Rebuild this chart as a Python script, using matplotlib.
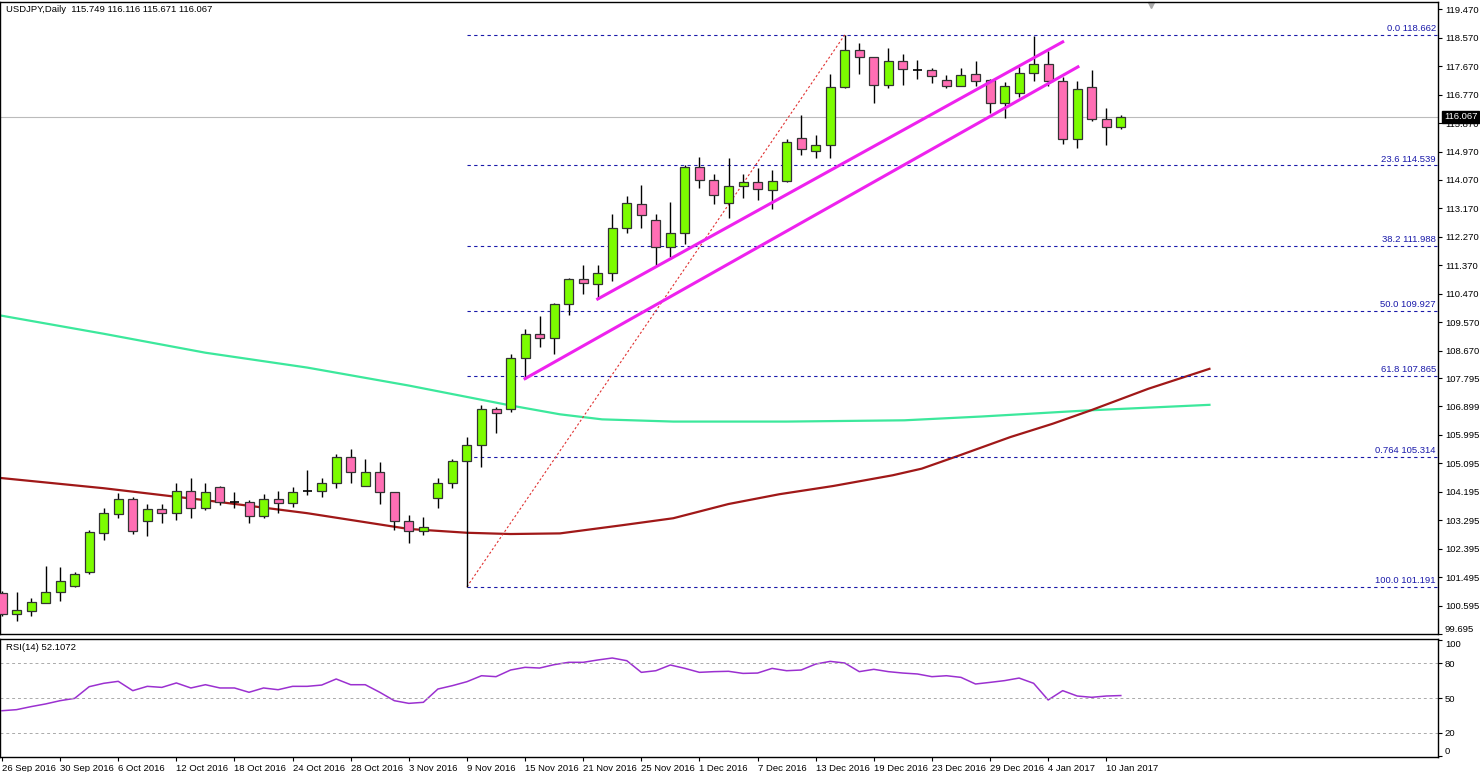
import matplotlib
matplotlib.use("Agg")
import matplotlib.pyplot as plt
import numpy as np

# ---- data ----
opens  = [101.00,100.34,100.43,100.69,101.03,101.22,101.66,102.89,103.49,103.97,103.27,103.65,103.52,104.22,103.68,104.34,103.87,103.87,103.43,103.97,
          103.84,104.22,104.22,104.47,105.29,104.37,104.82,104.19,103.27,102.96,104.00,104.47,105.16,105.67,106.83,106.83,108.44,109.20,109.07,110.15,
          110.94,110.78,111.12,112.54,113.30,112.80,111.94,112.39,114.47,114.06,113.33,113.87,114.00,113.74,114.03,115.41,115.00,115.19,117.02,118.19,
          117.97,117.09,117.84,117.56,117.56,117.24,117.05,117.43,117.24,116.52,116.83,117.46,117.75,117.21,115.35,117.02,116.01,115.749]
highs  = [101.05,101.03,100.84,101.85,101.82,101.66,102.99,103.68,104.15,104.03,103.81,103.81,104.47,104.63,104.47,104.37,104.19,103.93,104.12,104.22,
          104.34,104.88,104.63,105.39,105.54,105.23,105.13,104.19,103.46,103.40,104.63,105.23,105.92,106.96,106.87,108.57,109.36,109.77,110.18,110.97,
          111.38,111.38,112.99,113.55,113.90,112.99,113.36,114.53,114.81,114.25,114.78,114.25,114.44,114.40,115.38,116.14,115.48,117.43,118.66,118.41,
          117.97,118.25,118.06,117.87,117.62,117.40,117.62,117.84,117.28,117.18,117.65,118.63,118.16,117.34,117.21,117.56,116.36,116.116]
lows   = [100.28,100.12,100.28,100.69,100.75,101.19,101.60,102.67,103.37,102.86,102.80,103.21,103.30,103.37,103.62,103.78,103.68,103.21,103.37,103.52,
          103.71,104.09,104.03,104.31,104.47,104.37,103.81,102.99,102.58,102.83,103.68,104.31,101.19,104.97,106.05,106.71,107.78,108.79,108.57,109.80,
          110.46,110.30,110.87,112.39,112.54,111.35,111.63,112.04,113.81,113.30,112.86,113.49,113.43,113.14,114.00,114.85,114.75,114.75,116.99,117.43,
          116.52,116.99,117.09,117.28,117.15,116.99,117.05,117.05,116.20,116.04,116.71,117.21,117.05,115.22,115.07,115.95,115.19,115.671]
closes = [100.34,100.45,100.72,101.03,101.38,101.60,102.92,103.52,103.97,102.96,103.65,103.52,104.22,103.68,104.19,103.87,103.87,103.43,103.97,103.84,
          104.19,104.22,104.47,105.29,104.82,104.82,104.19,103.27,102.96,103.08,104.47,105.16,105.67,106.83,106.68,108.44,109.20,109.07,110.15,110.94,
          110.81,111.12,112.54,113.33,112.95,111.94,112.39,114.47,114.06,113.59,113.87,114.00,113.77,114.03,115.26,115.04,115.19,117.02,118.19,117.97,
          117.09,117.84,117.59,117.56,117.37,117.05,117.40,117.21,116.52,117.05,117.46,117.75,117.21,115.35,116.96,116.01,115.73,116.067]

rsi = [39.1,40.0,42.6,44.9,47.7,49.7,59.7,62.6,64.3,56.3,60.0,59.1,62.9,58.6,61.4,58.6,58.6,54.9,58.6,57.1,
       60.0,60.0,61.1,66.3,61.4,61.4,54.9,47.7,45.4,46.3,57.7,60.6,64.0,69.1,68.3,74.0,76.3,75.7,78.6,80.6,
       80.6,82.6,84.3,82.0,72.0,73.4,78.3,75.4,72.0,72.6,72.9,71.1,71.4,75.4,73.4,74.0,79.1,81.4,80.0,72.6,
       74.6,72.6,71.4,70.6,68.3,69.1,67.7,62.0,63.4,64.9,67.1,62.6,48.3,56.3,51.7,50.6,51.7,52.1]

ma200_idx = [0, 7, 14, 21, 28, 32, 35, 38.4, 41.3, 46.2, 54, 62.1, 67.4, 74.6, 83.1]
ma200     = [109.77,109.20,108.60,108.13,107.56,107.20,106.93,106.65,106.49,106.42,106.42,106.46,106.58,106.77,106.95]
ma100_idx = [0, 7, 14, 21, 28, 32, 35, 38.4, 42.7, 46.2, 50, 53.5, 57.2, 61.3, 63.3, 65.9, 69.4, 72.3, 74.9, 78.9, 83.1]
ma100     = [104.63,104.31,103.93,103.52,103.02,102.90,102.86,102.88,103.14,103.36,103.81,104.12,104.38,104.72,104.93,105.35,
             105.93,106.35,106.77,107.46,108.09]

fib_levels = [118.662,114.539,111.988,109.927,107.865,105.314,101.191]
fib_names  = ["0.0","23.6","38.2","50.0","61.8","0.764","100.0"]
fib_start = 32
fib_trend = ([32, 58], [101.191, 118.662])
chan_upper = ([41.0, 73.0], [110.30, 118.44])
chan_lower = ([36.0, 74.05], [107.78, 117.65])

price_ticks = [119.470,118.570,117.670,116.770,115.870,114.970,114.070,113.170,112.270,111.370,110.470,109.570,
               108.670,107.795,106.899,105.995,105.095,104.195,103.295,102.395,101.495,100.595,99.695]
date_idx = list(range(0, 80, 4))
date_labels = ["26 Sep 2016","30 Sep 2016","6 Oct 2016","12 Oct 2016","18 Oct 2016","24 Oct 2016","28 Oct 2016",
               "3 Nov 2016","9 Nov 2016","15 Nov 2016","21 Nov 2016","25 Nov 2016","1 Dec 2016","7 Dec 2016",
               "13 Dec 2016","19 Dec 2016","23 Dec 2016","29 Dec 2016","4 Jan 2017","10 Jan 2017"]
last_price = 116.067

# ---- figure ----
W, H = 1480, 772
plt.rcParams['font.family'] = ['Liberation Sans', 'DejaVu Sans']
fig = plt.figure(figsize=(W/100, H/100), dpi=100)
fs = 6.8
axr = 1438
ax = fig.add_axes([0, 1-634/H, axr/W, 632/H])
ax2 = fig.add_axes([0, 1-757/H, axr/W, (757-639)/H])
xl = (-2/14.53, (axr-2)/14.53)

n = len(opens)
x = np.arange(n)
for i in range(n):
    o, h, l, c = opens[i], highs[i], lows[i], closes[i]
    ax.vlines(i, l, h, color='black', lw=1, zorder=2)
    if abs(c-o) < 0.02:
        ax.hlines(c, i-0.31, i+0.31, color='black', lw=1.2, zorder=3)
    else:
        col = '#7CFC00' if c > o else '#FF6EB4'
        ax.add_patch(plt.Rectangle((i-0.31, min(o, c)), 0.62, abs(c-o), facecolor=col,
                                   edgecolor='#333333', lw=0.9, zorder=3))

ax.plot(ma200_idx, ma200, color='#3CE89C', lw=1.6, zorder=1)
ax.plot(ma100_idx, ma100, color='#A01818', lw=1.6, zorder=1)
ax.axhline(last_price, color='#BBBBBB', lw=0.8, zorder=0)
for lv, nm in zip(fib_levels, fib_names):
    ax.hlines(lv, fib_start, xl[1], color='#1A1AAA', lw=0.8, linestyles=(0, (3, 3)), zorder=1)
    ax.text(xl[1]-0.15, lv+0.05, f"{nm} {lv:.3f}", color='#1A1AAA', fontsize=fs, ha='right', va='bottom')
ax.plot(*fib_trend, color='#E03030', lw=0.8, ls=(0, (2, 2)), zorder=1)
ax.plot(*chan_upper, color='#EE22EE', lw=2.2, zorder=4)
ax.plot(*chan_lower, color='#EE22EE', lw=2.2, zorder=4)

ax.set_xlim(*xl)
ax.set_ylim(99.70, 119.703)
ax.yaxis.tick_right()
ax.set_yticks(price_ticks)
ax.set_yticklabels([f"{t:.3f}" for t in price_ticks], fontsize=fs)
ax.get_yticklabels()[-1].set_verticalalignment('bottom')
ax.tick_params(axis='y', length=3, pad=2, direction='out')
ax.set_xticks([])
ax.text(xl[1]+0.4, last_price, f"{last_price:.3f}", fontsize=fs, color='white', va='center',
        ha='left', bbox=dict(boxstyle='square,pad=0.15', fc='black', ec='black'), zorder=10, clip_on=False)
ax.text(0.3, 119.45, "USDJPY,Daily  115.749 116.116 115.671 116.067", fontsize=fs, va='center')
ax.plot([79.1], [119.62], marker='v', color='#AAAAAA', ms=5, clip_on=False)

ax2.plot(x, rsi, color='#9B30D0', lw=1.1)
for lv in (80, 50, 20):
    ax2.axhline(lv, color='#AAAAAA', lw=0.7, ls=(0, (3, 3)))
ax2.set_xlim(*xl)
ax2.set_ylim(-0.6, 100.6)
ax2.yaxis.tick_right()
ax2.set_yticks([100, 80, 50, 20, 0])
ax2.set_yticklabels(["100", "80", "50", "20", "0"], fontsize=fs)
ax2.get_yticklabels()[0].set_verticalalignment('top')
ax2.get_yticklabels()[-1].set_verticalalignment('bottom')
ax2.tick_params(axis='y', length=3, pad=2)
ax2.set_xticks(date_idx)
ax2.set_xticklabels(date_labels, fontsize=fs, ha='left')
ax2.tick_params(axis='x', length=3, pad=2)
ax2.text(0.3, 93, "RSI(14) 52.1072", fontsize=fs, va='center')

for a in (ax, ax2):
    for s in a.spines.values():
        s.set_linewidth(1.0)

fig.savefig("out.png", dpi=100, facecolor='white')
